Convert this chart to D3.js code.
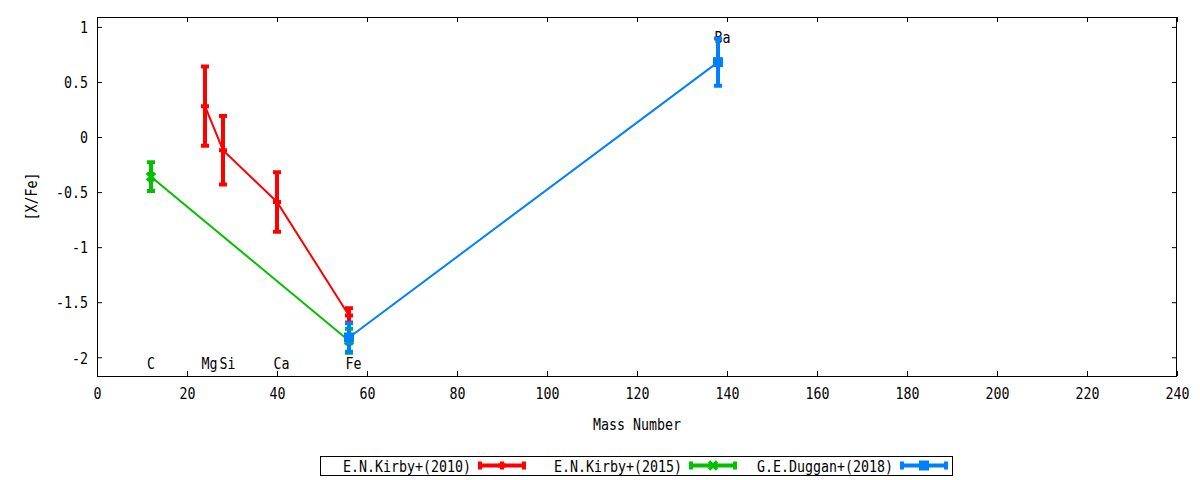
<!DOCTYPE html>
<html>
<head>
<meta charset="utf-8">
<script src="https://cdn.jsdelivr.net/npm/d3@7"></script>
<style>
  body { margin: 0; background: #fff; }
  text { font-family: "DejaVu Sans Mono", monospace; font-size: 16px; fill: #000; }
</style>
</head>
<body>
<div id="container"></div>
<script>
const WIDTH = 1200,
  HEIGHT = 480,
  LEFT = 97, RIGHT = 1177, TOP = 17, BOTTOM = 376,
  CHAR_W = 8; // the reference font is narrow, squeeze glyphs to this advance

// Data (mass number, [X/Fe], error)
const kirby2010Mass = [24, 28, 40, 56];
const kirby2010Val = [0.28, -0.12, -0.59, -1.62];
const kirby2010Err = [0.36, 0.31, 0.27, 0.065];

const kirby2015Mass = [12, 56];
const kirby2015Val = [-0.36, -1.85];
const kirby2015Err = [0.13, 0.11];

const duggan2018Mass = [56, 138];
const duggan2018Val = [-1.82, 0.68];
const duggan2018Err = [0.13, 0.215];

const seriesNames = ["E.N.Kirby+(2010)", "E.N.Kirby+(2015)", "G.E.Duggan+(2018)"];
const seriesColors = ["#ff0000", "#00c000", "#0080ff"];
const seriesMarkers = ["plus", "cross", "square"];

const elementNames = ["C", "Mg", "Si", "Ca", "Fe", "Ba"];
const elementLabelX = [12, 25, 29, 41, 57, 139];
const elementLabelY = [-2.05, -2.05, -2.05, -2.05, -2.05, 0.91];

const xTicks = d3.range(0, 241, 20);
const yTicks = [-2, -1.5, -1, -0.5, 0, 0.5, 1];

const series = [
  { mass: kirby2010Mass, val: kirby2010Val, err: kirby2010Err },
  { mass: kirby2015Mass, val: kirby2015Val, err: kirby2015Err },
  { mass: duggan2018Mass, val: duggan2018Val, err: duggan2018Err }
].map((s, i) => ({
  name: seriesNames[i],
  color: seriesColors[i],
  marker: seriesMarkers[i],
  points: s.mass.map((m, j) => ({ x: m, y: s.val[j], e: s.err[j] }))
}));

const svg = d3.select("#container")
  .append("svg")
  .attr("width", WIDTH)
  .attr("height", HEIGHT);

// Scales
const xScale = d3.scaleLinear().domain([0, 240]).range([LEFT, RIGHT]);
const yScale = d3.scaleLinear().domain([-2.17, 1.09]).range([BOTTOM, TOP]);

function condense(sel) {
  sel.each(function () {
    const t = d3.select(this);
    const n = t.text().length;
    if (n) t.attr("textLength", n * CHAR_W).attr("lengthAdjust", "spacingAndGlyphs");
  });
}

// Axes, ticks pointing inwards, mirrored on top/right
svg.append("g")
  .attr("transform", `translate(0,${BOTTOM})`)
  .call(d3.axisBottom(xScale).tickValues(xTicks).tickSizeInner(-5).tickSizeOuter(0).tickPadding(12));
svg.append("g")
  .attr("transform", `translate(0,${TOP})`)
  .call(d3.axisTop(xScale).tickValues(xTicks).tickSizeInner(-5).tickSizeOuter(0).tickFormat(""));
const yAxis = svg.append("g")
  .attr("transform", `translate(${LEFT},0)`)
  .call(d3.axisLeft(yScale).tickValues(yTicks).tickSizeInner(-5).tickSizeOuter(0).tickPadding(9)
    .tickFormat(d => String(d)));
svg.append("g")
  .attr("transform", `translate(${RIGHT},0)`)
  .call(d3.axisRight(yScale).tickValues(yTicks).tickSizeInner(-5).tickSizeOuter(0).tickFormat(""));

svg.selectAll(".domain").remove();
svg.selectAll(".tick line").attr("stroke", "#000");
svg.selectAll(".tick text")
  .attr("font-family", null).attr("font-size", null)
  .call(condense);
yAxis.selectAll(".tick text").attr("dy", "0.36em");

svg.append("rect")
  .attr("x", LEFT + 0.5).attr("y", TOP + 0.5)
  .attr("width", RIGHT - LEFT - 1).attr("height", BOTTOM - TOP)
  .attr("fill", "none").attr("stroke", "#000").attr("stroke-width", 1);

// Axis titles
svg.append("text")
  .attr("x", (LEFT + RIGHT) / 2).attr("y", 430)
  .attr("text-anchor", "middle")
  .text("Mass Number")
  .call(condense);

svg.append("text")
  .attr("transform", `translate(37,${(TOP + BOTTOM) / 2}) rotate(-90)`)
  .attr("text-anchor", "middle")
  .text("[X/Fe]")
  .call(condense);

// Element labels (drawn under the data, like the original)
svg.selectAll(".elem")
  .data(elementNames)
  .join("text")
  .attr("class", "elem")
  .attr("x", (d, i) => xScale(elementLabelX[i]))
  .attr("y", (d, i) => yScale(elementLabelY[i]) + 6)
  .attr("text-anchor", "middle")
  .text(d => d)
  .call(condense);

// Markers
function drawMarker(g, type, cx, cy, color) {
  if (type === "plus") {
    g.append("path")
      .attr("d", `M${cx - 4},${cy}H${cx + 4}M${cx},${cy - 4}V${cy + 4}`)
      .attr("stroke", color).attr("stroke-width", 4);
  } else if (type === "cross") {
    g.append("path")
      .attr("d", `M${cx - 4},${cy - 4}L${cx + 4},${cy + 4}M${cx - 4},${cy + 4}L${cx + 4},${cy - 4}`)
      .attr("stroke", color).attr("stroke-width", 3.5);
  } else {
    g.append("rect")
      .attr("x", cx - 5).attr("y", cy - 5).attr("width", 10).attr("height", 10)
      .attr("fill", color);
  }
}

const line = d3.line().x(d => xScale(d.x)).y(d => yScale(d.y));

series.forEach(s => {
  const g = svg.append("g");
  g.append("path")
    .attr("d", line(s.points))
    .attr("fill", "none")
    .attr("stroke", s.color)
    .attr("stroke-width", 2);

  s.points.forEach(p => {
    const cx = xScale(p.x), y0 = yScale(p.y - p.e), y1 = yScale(p.y + p.e);
    g.append("path")
      .attr("d", `M${cx},${y0}V${y1}M${cx - 4},${y0}H${cx + 4}M${cx - 4},${y1}H${cx + 4}`)
      .attr("fill", "none")
      .attr("stroke", s.color)
      .attr("stroke-width", 4);
    drawMarker(g, s.marker, cx, yScale(p.y), s.color);
  });
});

// Legend
const LEG_X = 320, LEG_Y = 456, LEG_COL = 211, LEG_H = 19;
const legend = svg.append("g");
legend.append("rect")
  .attr("x", LEG_X + 0.5).attr("y", LEG_Y + 0.5)
  .attr("width", LEG_COL * 3 - 1).attr("height", LEG_H)
  .attr("fill", "none").attr("stroke", "#000");

series.forEach((s, i) => {
  const x0 = LEG_X + i * LEG_COL, cy = LEG_Y + 9.5;
  legend.append("text")
    .attr("x", x0 + 151).attr("y", cy + 6)
    .attr("text-anchor", "end")
    .text(s.name)
    .call(condense);
  const a = x0 + 160, b = x0 + 204;
  legend.append("path")
    .attr("d", `M${a},${cy}H${b}M${a},${cy - 4}V${cy + 4}M${b},${cy - 4}V${cy + 4}`)
    .attr("stroke", s.color).attr("stroke-width", 4).attr("fill", "none");
  drawMarker(legend, s.marker, (a + b) / 2, cy, s.color);
});
</script>
</body>
</html>
